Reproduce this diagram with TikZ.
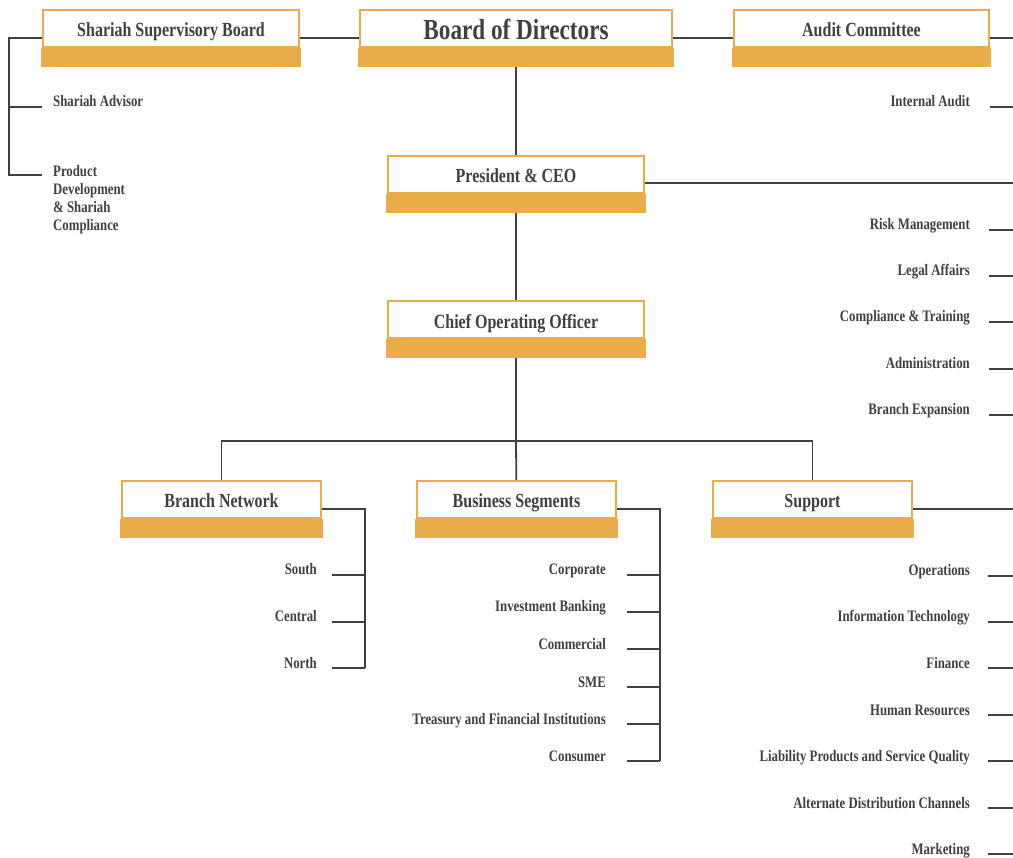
\documentclass[tikz,border=0pt]{standalone}
\usepackage{fontspec}
\setmainfont{Liberation Serif}[FakeStretch=0.8]
\usetikzlibrary{backgrounds}
\definecolor{boxorange}{HTML}{EAAC48}
\definecolor{ink}{HTML}{404040}
\tikzset{
  unit/.style={draw=boxorange, line width=2pt, fill=white, inner sep=0pt,
    minimum width=256pt, minimum height=37pt, text=ink,
    text height=16.4pt, text depth=0pt,
    font=\bfseries\fontsize{20}{24}\selectfont},
  dept/.style={inner sep=0pt, text=ink, font=\bfseries\fontsize{16}{18}\selectfont},
  link/.style={draw=ink, line width=1.8pt},
}
\begin{document}
\begin{tikzpicture}[x=1pt, y=-1pt]
  \useasboundingbox (0,0) rectangle (1013,858);
  \path
    (171,28.5) node[unit] (ssb) {Shariah Supervisory Board}
    (516,28.5) node[unit, minimum width=312pt, text height=23pt,
      font=\bfseries\fontsize{29}{32}\selectfont] (bod) {Board of Directors}
    (861.5,28.5) node[unit, minimum width=255pt] (audit) {Audit Committee}
    (516,174.5) node[unit] (ceo) {President \& CEO}
    (516,320) node[unit] (coo) {Chief Operating Officer}
    (221.5,499.5) node[unit, minimum width=199pt] (branch) {Branch Network}
    (516.5,499.5) node[unit, minimum width=199pt] (segments) {Business Segments}
    (812.5,499.5) node[unit, minimum width=199pt] (support) {Support};
  \foreach \n in {ssb,bod,audit,ceo,coo,branch,segments,support}
    \fill[boxorange] ([xshift=-1pt]\n.south west) rectangle ([xshift=1pt,yshift=-19pt]\n.south east);
  \coordinate (redge) at (1013,0);
  \coordinate (lspine) at (9,175);
  \coordinate (bus) at (516,441);
  \coordinate (bnspine) at (365,668);
  \coordinate (bsspine) at (660,761);
  \node[dept, anchor=base west] (advisor) at (53,107) {Shariah Advisor};
  \node[dept, anchor=north west, align=left] (pdsc) at (53,165) {Product\\Development\\\& Shariah\\Compliance};
  \node[dept, anchor=base east] (ia) at (970,107) {Internal Audit};
  \begin{scope}[on background layer]
    \draw[link] ([yshift=-9.5pt]ssb.east) -- ([yshift=-9.5pt]bod.west);
    \draw[link] ([yshift=-9.5pt]bod.east) -- ([yshift=-9.5pt]audit.west);
    \draw[link] ([yshift=-9.5pt]audit.east) -- ([yshift=-9.5pt]audit.east -| redge);
    \draw[link] ([yshift=-9.5pt]ssb.west) -| (lspine) -- (lspine -| ssb.west);
    \draw[link] (lspine |- advisor.base) -- (advisor.base -| ssb.west);
    \draw[link] (bod) -- (ceo);
    \draw[link] (ceo) -- (coo);
    \draw[link] (coo) -- (bus);
    \draw[link] (branch) |- (bus) -| (support);
    \draw[link] (bus) -- (segments);
    \draw[link] ([yshift=-8.5pt]ceo.east) -- ([yshift=-8.5pt]ceo.east -| redge);
    \draw[link] ([yshift=-9.5pt]branch.east) -| (bnspine);
    \draw[link] ([yshift=-9.5pt]segments.east) -| (bsspine);
    \draw[link] ([yshift=-9.5pt]support.east) -- ([yshift=-9.5pt]support.east -| redge);
  \end{scope}
  \draw[link] ([xshift=20pt]ia.base east) -- (ia.base -| redge);
  \foreach \y/\t [count=\i] in {230/Risk Management, 276/Legal Affairs,
      322/Compliance \& Training, 369/Administration, 415/Branch Expansion} {
    \node[dept, anchor=base east] (ceo\i) at (970,\y) {\t};
    \draw[link] ([xshift=19pt]ceo\i.base east) -- (ceo\i.base -| redge);
  }
  \foreach \y/\t [count=\i] in {575/South, 622/Central, 668/North} {
    \node[dept, anchor=base east] (bn\i) at (317,\y) {\t};
    \draw[link] ([xshift=15pt]bn\i.base east) -- (bn\i.base -| bnspine);
  }
  \foreach \y/\t [count=\i] in {575/Corporate, 612/Investment Banking,
      649/Commercial, 687/SME, 724/Treasury and Financial Institutions, 761/Consumer} {
    \node[dept, anchor=base east] (bs\i) at (606,\y) {\t};
    \draw[link] ([xshift=21pt]bs\i.base east) -- (bs\i.base -| bsspine);
  }
  \foreach \y/\t [count=\i] in {576/Operations, 622/Information Technology,
      668/Finance, 715/Human Resources, 761/Liability Products and Service Quality,
      808/Alternate Distribution Channels, 854/Marketing} {
    \node[dept, anchor=base east] (sp\i) at (970,\y) {\t};
    \draw[link] ([xshift=18pt]sp\i.base east) -- (sp\i.base -| redge);
  }
\end{tikzpicture}
\end{document}
